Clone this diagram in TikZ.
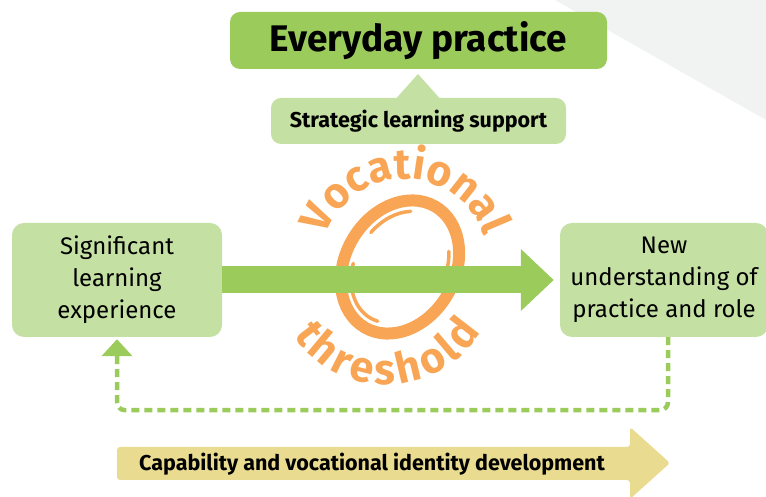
\documentclass[tikz,border=0pt]{standalone}
\usepackage{fontspec}
\setmainfont{Fira Sans}
\usetikzlibrary{arrows.meta,decorations.text,calc}
\definecolor{dgreen}{HTML}{9BCB5B}
\definecolor{lgreen}{HTML}{C5E0A3}
\definecolor{ylw}{HTML}{E9DB8F}
\definecolor{org}{HTML}{F8A655}
\definecolor{bggray}{HTML}{F1F2F2}
\newcommand\orgfont{\bfseries\fontsize{43}{43}\selectfont}
\begin{document}
\begin{tikzpicture}[x=1pt,y=1pt,
  box/.style={fill=lgreen, rounded corners=12pt, align=center,
    font=\fontsize{24}{32}\selectfont, inner sep=0pt,
    minimum height=114pt},
  orgline/.style={org, line width=12pt},
  thinorg/.style={org, line width=3.5pt, line cap=round},
]
\useasboundingbox (0,0) rectangle (766,497);
\fill[bggray] (555,497) -- (766,497) -- (766,377) -- cycle;

% top boxes
\node[fill=dgreen, rounded corners=10pt, minimum width=377pt, minimum height=57pt,
  inner sep=0pt, font=\bfseries\fontsize{37}{40}\selectfont] (E) at (418.5,456.5) {Everyday practice};
\fill[lgreen] (393,395) -- (418,423) -- (443,395) -- cycle;
\node[fill=lgreen, rounded corners=10pt, minimum width=295pt, minimum height=46pt,
  inner sep=0pt, font=\bfseries\fontsize{21.5}{26}\selectfont] (S) at (418.5,376) {Strategic learning support};

% side boxes
\node[box, minimum width=210pt] (L) at (117,217) {Significant\\learning\\experience};
\node[box, minimum width=208pt] (R) at (664,217) {New\\understanding of\\practice and role};

% threshold loop
\draw[orgline, rotate around={-30:(400,230)}] (400,230) ellipse[x radius=55, y radius=70];
\draw[thinorg, rotate around={-30:(400,230)}] (400,230) ++(115:44 and 59)
  arc[start angle=115, end angle=165, x radius=44, y radius=59];
\draw[thinorg, rotate around={-30:(400,230)}] (400,230) ++(200:45 and 59)
  arc[start angle=200, end angle=280, x radius=45, y radius=59];
\draw[thinorg, rotate around={-30:(400,230)}] (400,230) ++(0:45 and 59)
  arc[start angle=0, end angle=40, x radius=45, y radius=59];

% arc texts
\path[decorate, decoration={text along path, text={|\orgfont\color{org}|Vocational}, text align=fit to path}]
  (405,234) ++(161:84) arc[start angle=161, end angle=21, radius=84];
\path[decorate, decoration={text along path, text={|\orgfont\color{org}|threshold}, text align=fit to path}]
  (386,222) ++(213:110) arc[start angle=213, end angle=329, radius=110];

% main arrow
\draw[dgreen, line width=27pt, -{Triangle[width=60pt, length=33pt]}]
  (L.east) -- ($(R.west)+(-6,0)$);

% feedback dashed
\draw[dgreen, line width=4.5pt, dash pattern=on 8pt off 5pt, rounded corners=8pt,
  -{Triangle[width=30pt, length=17pt]}]
  ([xshift=4pt]R.south) -- ++(0,-73) -| ([yshift=-2pt]L.south);

% bottom arrow
\fill[ylw, rounded corners=3pt] (117,50) -- (630,50) -- (630,70) -- (670,34) -- (630,-2)
  -- (630,17) -- (117,17) -- cycle;
\node[anchor=west, inner sep=0pt, font=\bfseries\fontsize{21.5}{26}\selectfont] (C) at (139,33)
  {Capability and vocational identity development};
\end{tikzpicture}
\end{document}
